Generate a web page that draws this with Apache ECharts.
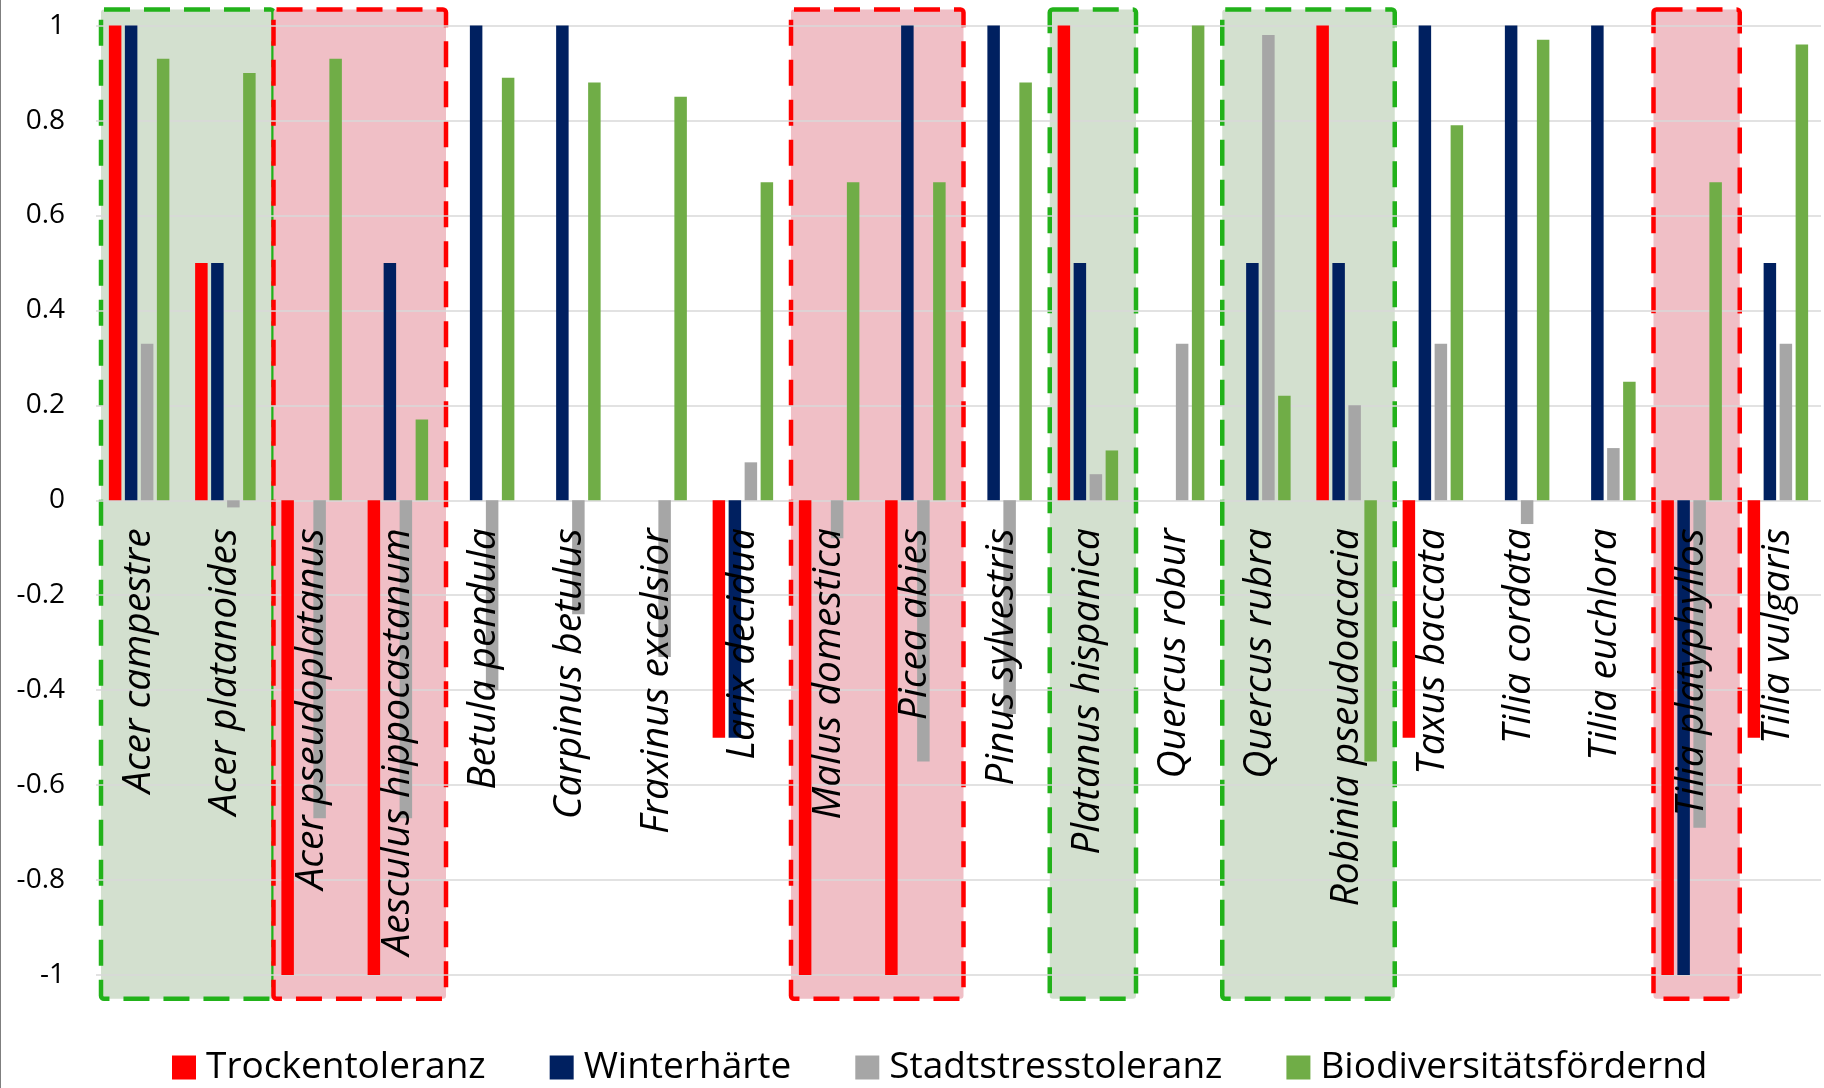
<!DOCTYPE html>
<html>
<head>
<meta charset="utf-8">
<script src="https://cdn.jsdelivr.net/npm/echarts@6/dist/echarts.min.js"></script>
<style>
  html, body { margin: 0; padding: 0; background: #fff; }
  #main { width: 1824px; height: 1088px; }
</style>
</head>
<body>
<div id="main"></div>
<script>
var categories = ['Acer campestre', 'Acer platanoides', 'Acer pseudoplatanus', 'Aesculus hippocastanum',
   'Betula pendula', 'Carpinus betulus', 'Fraxinus excelsior', 'Larix decidua', 'Malus domestica',
   'Picea abies', 'Pinus sylvestris', 'Platanus hispanica', 'Quercus robur', 'Quercus rubra',
   'Robinia pseudoacacia', 'Taxus baccata', 'Tilia cordata', 'Tilia euchlora', 'Tilia platyphyllos',
   'Tilia vulgaris'];

var trocken = [1, 0.5, -1, -1, 0, 0, 0, -0.5, -1, -1, 0, 1, 0, 0, 1, -0.5, 0, 0, -1, -0.5];
var winter  = [1, 0.5, 0, 0.5, 1, 1, 0, -0.5, 0, 1, 1, 0.5, 0, 0.5, 0.5, 1, 1, 1, -1, 0.5];
var stadt   = [0.33, -0.015, -0.67, -0.67, -0.4, -0.24, -0.33, 0.08, -0.08, -0.55, -0.45, 0.055, 0.33, 0.98, 0.2, 0.33, -0.05, 0.11, -0.69, 0.33];
var bio     = [0.93, 0.9, 0.93, 0.17, 0.89, 0.88, 0.85, 0.67, 0.67, 0.67, 0.88, 0.105, 1, 0.22, -0.55, 0.79, 0.97, 0.25, 0.67, 0.96];

var seriesNames = ['Trockentoleranz', 'Winterhärte', 'Stadtstresstoleranz', 'Biodiversitätsfördernd'];
var seriesColors = ['#FF0000', '#002060', '#A6A6A6', '#70AD47'];

// highlighted groups: first/last category index, kind
var boxes = [
   [0, 1, 'good'], [2, 3, 'bad'], [8, 9, 'bad'], [11, 11, 'good'], [13, 14, 'good'], [18, 18, 'bad']
];
var boxTop = 1.034, boxBottom = -1.05;

var chart = echarts.init(document.getElementById('main'));
var font = '"Open Sans", "Noto Sans", sans-serif';

var values = [trocken, winter, stadt, bio];
var series = values.map(function (data, i) {
   return {
      name: seriesNames[i],
      type: 'bar',
      data: data,
      barWidth: 12.5,
      barGap: '28%',
      itemStyle: { color: seriesColors[i] }
   };
});

chart.setOption({
   animation: false,
   color: seriesColors,
   grid: { left: 96, right: 3, top: 25.6, bottom: 113, containLabel: false, outerBoundsMode: 'none' },
   legend: {
      left: 167,
      top: 1044,
      itemWidth: 24,
      itemHeight: 24,
      itemGap: 64,
      icon: 'rect',
      textStyle: { fontFamily: font, fontSize: 37, color: '#000', padding: [0, 0, 0, 5] },
      data: seriesNames
   },
   xAxis: {
      type: 'category',
      data: categories,
      z: 10,
      axisLine: { onZero: false, show: false },
      axisTick: { show: false },
      axisLabel: {
         interval: 0,
         rotate: 90,
         margin: 28,
         fontFamily: font,
         fontStyle: 'italic',
         fontSize: 39,
         color: '#000'
      }
   },
   yAxis: {
      type: 'value',
      min: -1,
      max: 1,
      interval: 0.2,
      axisLine: { show: false },
      axisTick: { show: false },
      axisLabel: { fontFamily: font, fontSize: 28, color: '#000', margin: 31 },
      splitLine: { lineStyle: { color: '#D9D9D9', width: 1.5 } }
   },
   series: series
});

// move the category labels up to the zero line
var yZero = chart.convertToPixel({ yAxisIndex: 0 }, 0);
var yMin = chart.convertToPixel({ yAxisIndex: 0 }, -1);
chart.setOption({ xAxis: { offset: yZero - yMin } });

// boxes behind the bars, placed from the axes
var c0 = chart.convertToPixel({ xAxisIndex: 0 }, 0);
var c1 = chart.convertToPixel({ xAxisIndex: 0 }, 1);
var band = c1 - c0;
var yTop = chart.convertToPixel({ yAxisIndex: 0 }, boxTop);
var yBot = chart.convertToPixel({ yAxisIndex: 0 }, boxBottom);

var graphics = boxes.map(function (b) {
   var x0 = chart.convertToPixel({ xAxisIndex: 0 }, b[0]) - band / 2 + 5;
   var x1 = chart.convertToPixel({ xAxisIndex: 0 }, b[1]) + band / 2 + 5;
   var good = b[2] == 'good';
   return {
      type: 'rect',
      z: -10,
      silent: true,
      shape: { x: x0, y: yTop, width: x1 - x0, height: yBot - yTop, r: 3 },
      style: {
         fill: good ? '#D3E0CF' : '#F0BFC6',
         stroke: good ? '#22B21A' : '#FF0000',
         lineWidth: 4.5,
         lineDash: [26, 14]
      }
   };
});
// frame line on the left edge
graphics.push({
   type: 'line',
   silent: true,
   shape: { x1: 0.5, y1: 0, x2: 0.5, y2: 1088 },
   style: { stroke: '#7F7F7F', lineWidth: 1 }
});

chart.setOption({ graphic: graphics });
</script>
</body>
</html>
